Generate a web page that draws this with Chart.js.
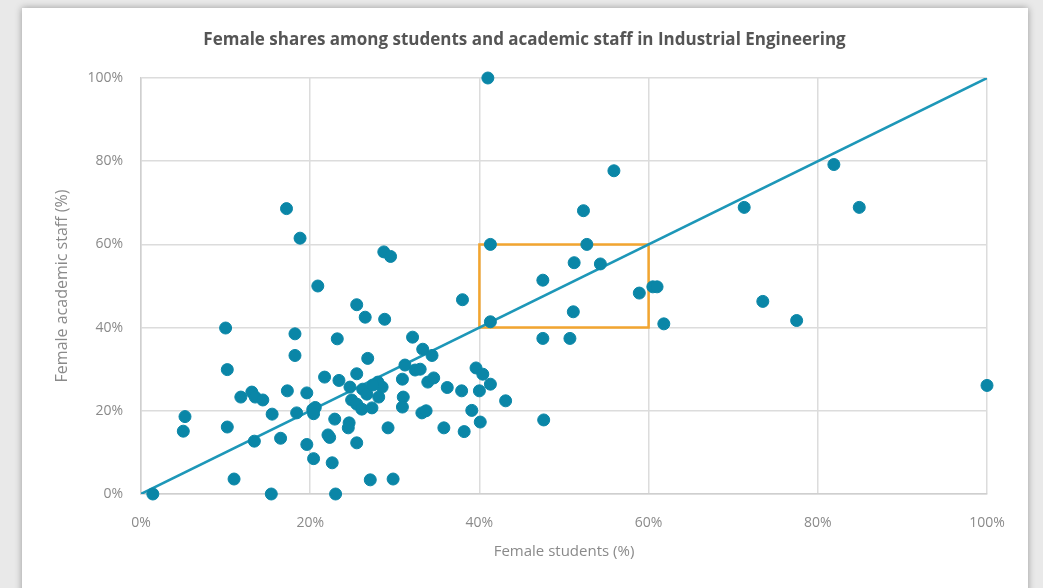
<!DOCTYPE html>
<html>
<head>
<meta charset="utf-8">
<script src="https://cdn.jsdelivr.net/npm/chart.js@4/dist/chart.umd.min.js"></script>
<style>
  html, body { margin: 0; padding: 0; }
  body { width: 1043px; height: 588px; background: #e9e9e9; overflow: hidden; }
  .card { position: absolute; left: 22px; top: 8px; width: 1006px; height: 590px; background: #fff;
          box-shadow: 0 0 7px rgba(0,0,0,.35); }
  canvas { display: block; }
</style>
</head>
<body>
<div class="card"><canvas id="chart" width="1006" height="580"></canvas></div>
<script>
// Female students (%) and female academic staff (%) per institution
const studentShare = [
  1.4, 5.2, 5.0, 10.0, 10.2, 10.2, 11.0, 11.8, 13.1, 13.5,
  14.4, 13.4, 15.5, 15.4, 16.5, 17.3, 17.2, 18.8, 18.2, 18.2,
  18.4, 19.6, 19.6, 20.3, 20.6, 20.4, 20.9, 20.4, 21.7, 22.1,
  22.3, 22.6, 23.0, 23.2, 23.4, 22.9, 24.7, 24.6, 24.5, 25.5,
  25.5, 26.2, 26.7, 24.9, 25.5, 26.1, 27.3, 25.5, 26.5, 26.8,
  27.1, 28.0, 28.5, 28.1, 28.7, 29.5, 28.8, 29.2, 29.8, 31.2,
  32.4, 33.0, 30.9, 31.0, 30.9, 32.1, 33.3, 34.4, 33.2, 33.7,
  33.9, 34.6, 35.8, 36.2, 37.9, 38.0, 38.2, 39.1, 39.6, 40.0,
  40.1, 40.4, 41.3, 43.1, 41.0, 41.3, 41.3, 47.5, 47.5, 47.6,
  50.7, 51.1, 51.2, 52.3, 52.7, 54.3, 55.9, 58.9, 60.5, 61.0,
  61.8, 71.3, 73.5, 77.5, 81.9, 84.9, 100, 27.4
];
const staffShare = [
  0, 18.6, 15.1, 39.9, 29.9, 16.1, 3.6, 23.3, 24.5, 23.3,
  22.6, 12.7, 19.2, 0, 13.4, 24.8, 68.6, 61.5, 38.5, 33.3,
  19.5, 24.3, 11.9, 20.3, 20.8, 19.3, 50.0, 8.5, 28.1, 14.2,
  13.6, 7.5, 0, 37.3, 27.3, 18.0, 25.7, 17.1, 15.9, 45.5,
  28.9, 25.2, 24.0, 22.6, 21.6, 20.4, 20.7, 12.3, 42.5, 32.6,
  3.4, 26.9, 25.7, 23.3, 58.2, 57.1, 42.0, 15.9, 3.6, 31.0,
  29.8, 30.0, 27.6, 23.3, 20.9, 37.7, 34.8, 33.3, 19.5, 20.0,
  26.9, 27.9, 15.9, 25.6, 24.8, 46.7, 15.0, 20.1, 30.3, 24.8,
  17.3, 28.8, 26.4, 22.4, 100, 60, 41.4, 51.4, 37.4, 17.8,
  37.4, 43.8, 55.6, 68.1, 60, 55.3, 77.7, 48.3, 49.8, 49.8,
  40.9, 68.9, 46.3, 41.7, 79.2, 68.9, 26.1, 26.2
];

// parity line and highlighted 40-60% box
const parityX = [0, 100];
const parityY = [0, 100];
const boxX = [40, 60, 60, 40, 40];
const boxY = [40, 40, 60, 60, 40];

const tickValues = [0, 20, 40, 60, 80, 100];

const pts = (xs, ys) => xs.map((x, i) => ({ x, y: ys[i] }));

const gridColor = '#dcdcdc';
const textColor = '#8a8a8a';

new Chart(document.getElementById('chart'), {
  type: 'scatter',
  data: {
    datasets: [
      {
        label: 'Institutions',
        data: pts(studentShare, staffShare),
        backgroundColor: '#0a86a7',
        borderColor: '#0a86a7',
        pointRadius: 6,
        pointHoverRadius: 6,
        clip: false
      },
      {
        type: 'line',
        label: 'Parity',
        data: pts(parityX, parityY),
        borderColor: '#1d97b8',
        borderWidth: 2.5,
        pointRadius: 0,
        fill: false,
        tension: 0
      },
      {
        type: 'line',
        label: 'Box',
        data: pts(boxX, boxY),
        borderColor: '#f2a530',
        borderWidth: 2.5,
        pointRadius: 0,
        fill: false,
        tension: 0
      }
    ]
  },
  options: {
    responsive: false,
    animation: false,
    layout: { padding: { top: 22, right: 21, bottom: 0, left: 20 } },
    plugins: {
      legend: { display: false },
      tooltip: { enabled: false },
      title: {
        display: true,
        text: 'Female shares among students and academic staff in Industrial Engineering',
        color: '#555',
        font: { family: 'Open Sans', size: 17, weight: '700' },
        padding: { top: 0, bottom: 27.6 }
      }
    },
    scales: {
      x: {
        type: 'linear',
        min: 0, max: 100,
        afterFit: s => { s.height = 94; },
        afterBuildTicks: s => { s.ticks = tickValues.map(v => ({ value: v })); },
        grid: { color: gridColor, drawTicks: false, lineWidth: 1.5 },
        border: { color: '#cfcfcf', width: 1.5 },
        ticks: { color: textColor, padding: 21, font: { family: 'Open Sans', size: 14 }, callback: v => v + '%' },
        title: { display: true, text: 'Female students (%)', color: textColor,
                 font: { family: 'Open Sans', size: 15 }, padding: { bottom: 27 } }
      },
      y: {
        type: 'linear',
        min: 0, max: 100,
        afterFit: s => { s.width = 99; },
        afterBuildTicks: s => { s.ticks = tickValues.map(v => ({ value: v })); },
        grid: { color: gridColor, drawTicks: false, lineWidth: 1.5 },
        border: { color: '#cfcfcf', width: 1.5 },
        ticks: { color: textColor, padding: 18, font: { family: 'Open Sans', size: 14 }, callback: v => v + '%' },
        title: { display: true, text: 'Female academic staff (%)', color: textColor,
                 font: { family: 'Open Sans', size: 16 }, padding: { top: 10.4 } }
      },
      // empty spacer on the right so the title centres on the whole card
      spacer: {
        type: 'linear',
        position: 'right',
        display: true,
        afterFit: s => { s.width = 20; },
        grid: { display: false },
        border: { display: false },
        ticks: { display: false }
      }
    }
  }
});
</script>
</body>
</html>
